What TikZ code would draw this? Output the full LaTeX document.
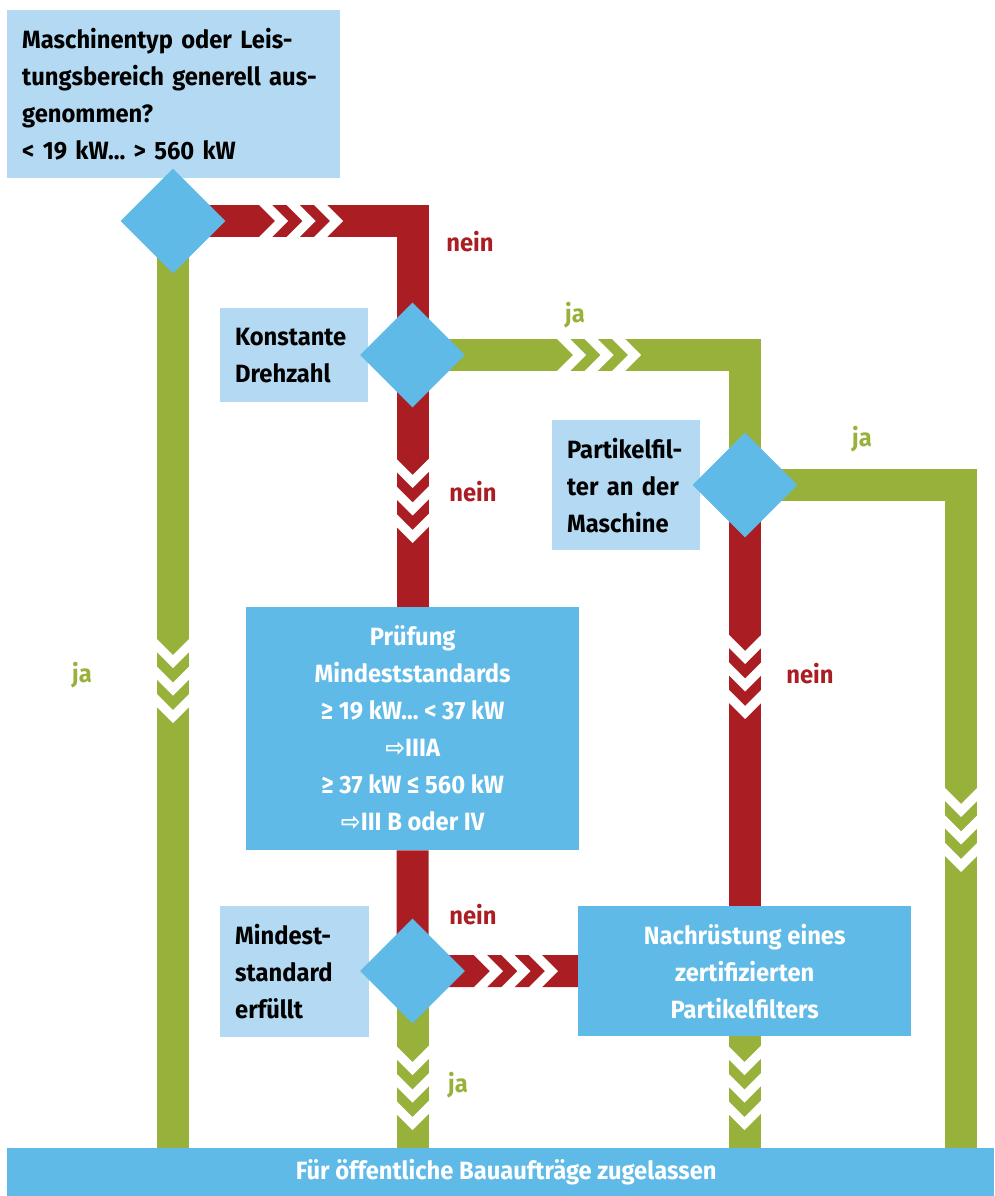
\documentclass[tikz,border=0pt]{standalone}
\usepackage{fontspec}
\setmainfont{Fira Sans}[FakeStretch=0.95]
\newfontfamily\arrowfont{DejaVu Sans}[FakeStretch=0.95]
\usetikzlibrary{shapes.geometric,backgrounds}
\definecolor{lblue}{HTML}{B3DAF2}
\definecolor{mblue}{HTML}{5FBAE8}
\definecolor{fred}{HTML}{AA1E23}
\definecolor{fgreen}{HTML}{97B13B}
\tikzset{
 txt/.style={font=\fontsize{25}{37}\selectfont\bfseries},
 qbox/.style={txt, fill=lblue, text=black, align=left, inner xsep=15pt, inner ysep=0pt, anchor=north west},
 pbox/.style={txt, fill=mblue, text=white, align=center, inner sep=0pt, anchor=north west},
 dia/.style={diamond, fill=mblue, minimum width=105pt, minimum height=105pt, inner sep=0pt, aspect=1},
 redline/.style={draw=fred, line width=32pt},
 greenline/.style={draw=fgreen, line width=32pt},
 lblred/.style={txt, text=fred, anchor=base},
 lblgreen/.style={txt, text=fgreen, anchor=base},
}
\newcommand{\chevs}[3]{%
 \begin{scope}[shift={(#1,#2)}, rotate=#3]
 \foreach \o in {0,27.5,55}{
 \fill[white] (\o-17,-17) -- (\o,0) -- (\o-17,17) -- (\o-4,17) -- (\o+13,0) -- (\o-4,-17) -- cycle;
 }
 \end{scope}}
\begin{document}
\begin{tikzpicture}[x=1pt,y=-1pt]
\useasboundingbox (0,0) rectangle (994,1196);
\node[qbox, text width=303pt, minimum height=168pt] (q1) at (7,10) {Maschinentyp oder Leis-\\tungsbereich generell aus-\\genommen?\\< 19 kW… > 560 kW};
\node[qbox, text width=118pt, minimum height=94pt] (q2) at (220,308) {Konstante\\Drehzahl};
\node[qbox, text width=118pt, minimum height=130pt] (q3) at (552,420) {Partikelfil-\\ter an der\\Maschine};
\node[qbox, text width=119pt, minimum height=131pt] (q4) at (220,906) {Mindest-\\standard\\erfüllt};
\node[pbox, minimum width=333pt, minimum height=243pt] (pruef) at (246,607) {Prüfung\\Mindeststandards\\≥ 19 kW… < 37 kW\\{\arrowfont ⇨}IIIA\\≥ 37 kW ≤ 560 kW\\{\arrowfont ⇨}III B oder IV};
\node[pbox, minimum width=333pt, minimum height=130pt] (nach) at (578,906) {Nachrüstung eines\\zertifizierten\\Partikelfilters};
\node[pbox, minimum width=987pt, minimum height=48pt] (bar) at (7,1148) {\hspace*{11pt}Für öffentliche Bauaufträge zugelassen};
\node[dia] (d1) at (173,221) {};
\node[dia] (d2) at (412.5,355) {};
\node[dia] (d3) at (412.5,971) {};
\node[dia] (d4) at (745,485) {};
\coordinate (rj) at (961,1148);
\begin{pgfonlayer}{background}
\draw[redline] (d1.center) -| (d2.center);
\draw[redline] (d2.center) -- (d2.center |- pruef.north);
\draw[redline] (pruef.south) -- (d3.center);
\draw[greenline] (d1.center) -- (d1.center |- bar.north);
\draw[greenline] (d2.center) -| (d4.center);
\draw[greenline] (d4.center) -| (rj);
\draw[redline] (d4.center) -- (d4.center |- nach.north);
\draw[greenline] (d3.center) -- (d3.center |- bar.north);
\draw[redline] (d3.center) -- (nach.west);
\draw[greenline] (nach.south) -- (nach.south |- bar.north);
\chevs{275}{221}{0}
\chevs{573}{355}{0}
\chevs{490}{971}{0}
\chevs{412.5}{475}{-90}
\chevs{173}{655}{-90}
\chevs{745}{651}{-90}
\chevs{961}{804}{-90}
\chevs{412.5}{1062}{-90}
\chevs{744.5}{1062}{-90}
\end{pgfonlayer}
\node[lblred] (n1) at (470,251) {nein};
\node[lblred] (n2) at (473,501) {nein};
\node[lblred] (n3) at (810,683) {nein};
\node[lblred] (n4) at (473,924) {nein};
\node[lblgreen] (j1) at (575,322) {ja};
\node[lblgreen] (j2) at (862,446) {ja};
\node[lblgreen] (j3) at (82,682) {ja};
\node[lblgreen] (j4) at (458,1092) {ja};
\end{tikzpicture}
\end{document}
